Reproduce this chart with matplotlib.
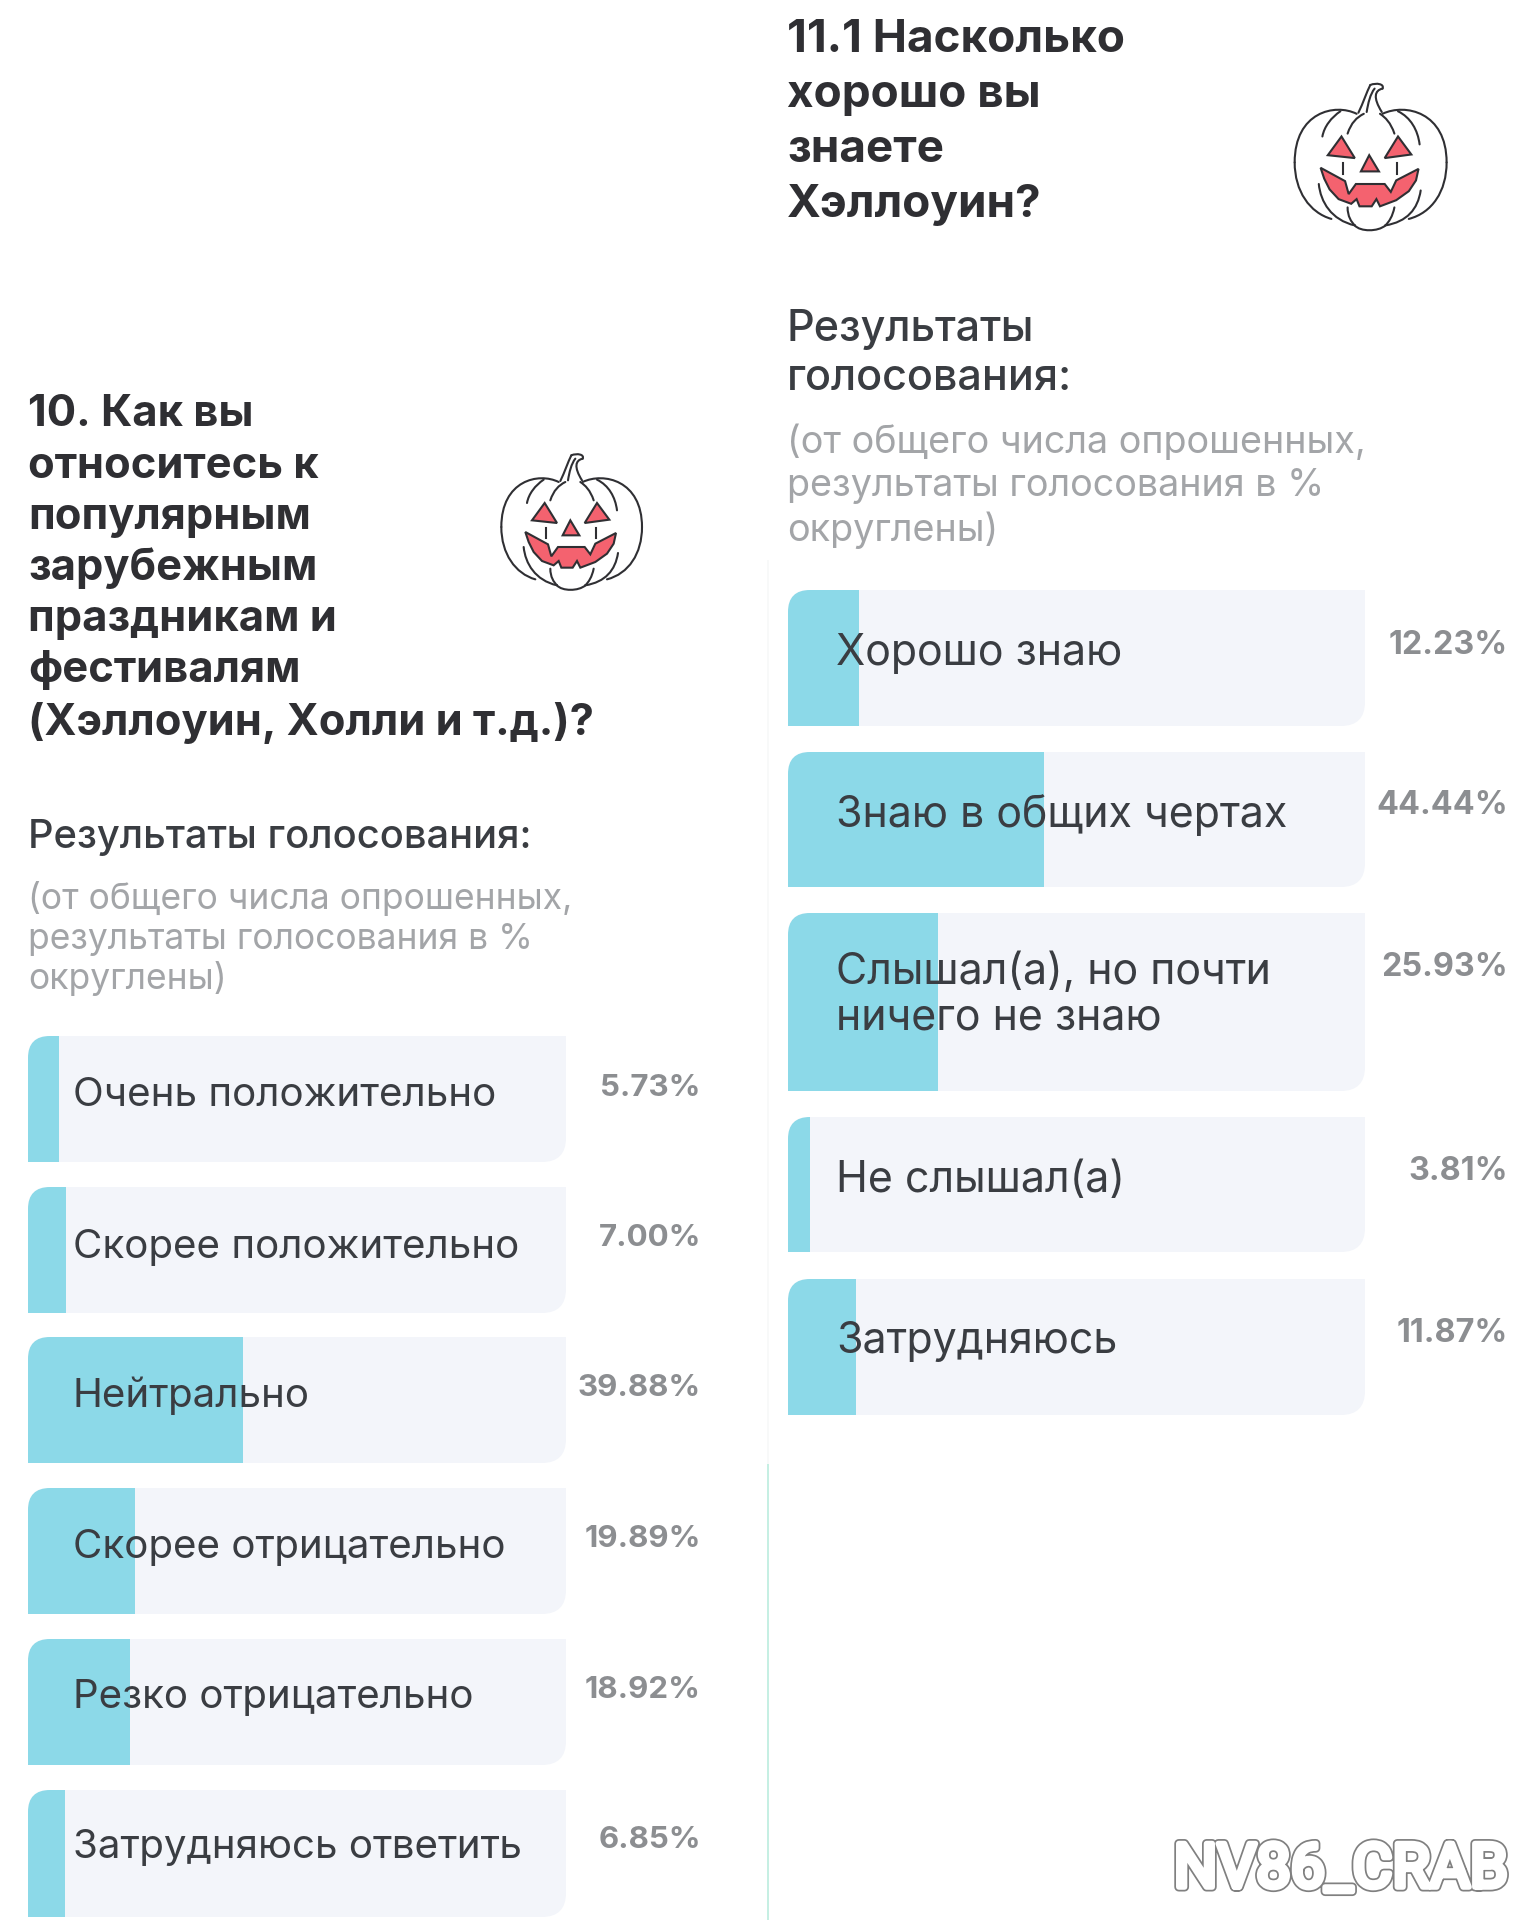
# Halloween poll results, two panels side by side
import matplotlib
matplotlib.use("Agg")
import matplotlib.pyplot as plt
from matplotlib.path import Path
from matplotlib.patches import PathPatch, Rectangle
import matplotlib.patheffects as pe

plt.rcParams['font.family'] = ['Inter', 'DejaVu Sans']

W, H = 1536, 1920

# Data
left_labels = ["Очень положительно", "Скорее положительно", "Нейтрально",
               "Скорее отрицательно", "Резко отрицательно", "Затрудняюсь ответить"]
left_values = [5.73, 7.00, 39.88, 19.89, 18.92, 6.85]
right_labels = ["Хорошо знаю", "Знаю в общих чертах",
                "Слышал(а), но почти\nничего не знаю", "Не слышал(а)", "Затрудняюсь"]
right_values = [12.23, 44.44, 25.93, 3.81, 11.87]

left_title = ["10. Как вы", "относитесь к", "популярным", "зарубежным",
              "праздникам и", "фестивалям", "(Хэллоуин, Холли и т.д.)?"]
right_title = ["11.1 Насколько", "хорошо вы", "знаете", "Хэллоуин?"]
note_left = ["(от общего числа опрошенных,", "результаты голосования в %", "округлены)"]

# Layout in pixels
left_tops = [1036, 1187, 1337, 1488, 1639, 1790]
left_heights = [126, 126, 126, 126, 126, 127]
left_label_y = [1096, 1247, 1396, 1547, 1698, 1848]
left_pct_y = [1088, 1238, 1388, 1539, 1690, 1840]
right_tops = [590, 752, 913, 1117, 1279]
right_heights = [136, 135, 178, 135, 136]
right_label_y = [654, 815, 995, 1181, 1342]
right_pct_y = [646, 806, 968, 1172, 1333]

TRACK = '#f3f5fa'
FILL = '#8cd9e8'
DARK = '#3a3d42'
GREY = '#a3a5a8'
PCT = '#8c8e91'
INK = '#2f2f33'


def corner_path(x0, y0, x1, y1, r1=22, r2=24):
    """Bar outline: top-left and bottom-right corners are rounded"""
    verts = [(x0 + r1, y0), (x1, y0), (x1, y1 - r2), (x1, y1), (x1 - r2, y1),
             (x0, y1), (x0, y0 + r1), (x0, y0), (x0 + r1, y0)]
    codes = [Path.MOVETO, Path.LINETO, Path.LINETO, Path.CURVE3, Path.CURVE3,
             Path.LINETO, Path.LINETO, Path.CURVE3, Path.CURVE3]
    return Path(verts, codes)


def draw_bars(fig, overlay, x0, x1, tops, heights, values):
    ax = fig.add_axes([x0 / W, 0, (x1 - x0) / W, 1])
    ax.set_xlim(0, 100)
    ax.set_ylim(H, 0)
    ax.axis('off')
    tracks = ax.barh(tops, [100] * len(values), height=heights, align='edge', color=TRACK)
    fills = ax.barh(tops, values, height=heights, align='edge', color=FILL)
    for t, f, top, h in zip(tracks, fills, tops, heights):
        clip = corner_path(x0, top, x1, top + h)
        t.set_clip_path(clip, overlay.transData)
        f.set_clip_path(clip, overlay.transData)


def draw_pumpkin(ax, cx, cy, scale):
    """Outline coordinates come from a 600 px sketch centred on (280, 275)"""
    def pt(x, y):
        return (cx + (x - 280) * scale, cy + (y - 275) * scale)

    curves = [
        [(240, 155), (180, 125), (68, 150), (68, 290)],
        [(68, 290), (68, 370), (110, 430), (170, 447)],
        [(135, 350), (140, 400), (170, 450), (235, 465)],
        [(235, 465), (250, 483), (300, 483), (320, 465)],
        [(320, 465), (380, 455), (410, 420), (418, 368)],
        [(312, 155), (375, 125), (490, 150), (490, 290)],
        [(490, 290), (490, 370), (450, 430), (385, 447)],
        [(145, 218), (150, 190), (170, 165), (195, 148)],
        [(215, 415), (215, 440), (225, 455), (235, 465)],
        [(345, 415), (340, 440), (330, 455), (320, 465)],
        [(215, 210), (225, 180), (240, 165), (260, 155)],
        [(345, 210), (335, 180), (320, 165), (305, 155)],
        [(415, 240), (410, 200), (390, 165), (355, 148)],
        [(245, 152), (258, 125), (268, 95), (278, 75)],
        [(278, 75), (295, 68), (318, 72), (312, 85)],
        [(312, 85), (290, 90), (285, 110), (310, 150)],
        [(268, 150), (272, 125), (278, 100), (290, 85)],
    ]
    for c in curves:
        path = Path([pt(*p) for p in c], [Path.MOVETO, Path.CURVE4, Path.CURVE4, Path.CURVE4])
        ax.add_patch(PathPatch(path, fc='none', ec=INK, lw=1.5, capstyle='round'))
    for seg in [[(202, 293), (202, 322)], [(352, 293), (352, 322)]]:
        ax.plot(*zip(*[pt(*p) for p in seg]), color=INK, lw=1.5)
    shapes = [
        [(198, 218), (235, 278), (160, 270)],
        [(355, 218), (392, 268), (318, 278)],
        [(275, 270), (302, 315), (252, 315)],
        [(140, 305), (208, 342), (218, 378), (238, 350), (318, 350), (335, 372), (350, 340),
         (412, 308), (405, 340), (385, 370), (350, 395), (305, 412), (295, 392), (282, 412),
         (248, 412), (240, 392), (225, 405), (190, 392), (165, 365), (150, 335)],
    ]
    for s in shapes:
        ax.fill(*zip(*[pt(*p) for p in s]), fc='#f4626f', ec=INK, lw=1.5)


fig = plt.figure(figsize=(W / 100, H / 100), dpi=100, facecolor='white')
overlay = fig.add_axes([0, 0, 1, 1], zorder=5)
overlay.set_xlim(0, W)
overlay.set_ylim(H, 0)
overlay.axis('off')
overlay.patch.set_alpha(0)

# Divider between the panels
overlay.add_patch(Rectangle((767, 560), 1.5, 904, fc='#f8f9f9', ec='none'))
overlay.add_patch(Rectangle((767, 1464), 2, 456, fc='#c6efe3', ec='none'))

draw_bars(fig, overlay, 28, 566, left_tops, left_heights, left_values)
draw_bars(fig, overlay, 788, 1365, right_tops, right_heights, right_values)

# Titles
for line, y in zip(left_title, [415, 466, 517, 568, 620, 671, 723]):
    overlay.text(28, y, line, fontsize=31.3, fontweight='bold', color=INK, va='center')
for line, y in zip(right_title, [40, 95, 150, 205]):
    overlay.text(787, y, line, fontsize=33, fontweight='bold', color=INK, va='center')

# Sub headings
overlay.text(28, 838, "Результаты голосования:", fontsize=28.7, fontweight='medium', color=DARK, va='center')
overlay.text(787, 329, "Результаты", fontsize=31, fontweight='medium', color=DARK, va='center')
overlay.text(787, 378, "голосования:", fontsize=31, fontweight='medium', color=DARK, va='center')
for line, y in zip(note_left, [899, 939, 979]):
    overlay.text(28, y, line, fontsize=25.5, color=GREY, va='center')
for line, y in zip(note_left, [443, 486, 530]):
    overlay.text(787, y, line, fontsize=27.2, color=GREY, va='center')

# Bar labels and values
for label, v, y, py in zip(left_labels, left_values, left_label_y, left_pct_y):
    overlay.text(73, y, label, fontsize=29, color=DARK, va='center')
    overlay.text(701, py, f"{v:.2f}%", fontsize=22.5, fontweight='bold', color=PCT, va='center', ha='right')
for label, v, y, py in zip(right_labels, right_values, right_label_y, right_pct_y):
    overlay.text(836, y, label, fontsize=30.9, color=DARK, va='center', linespacing=1.15)
    overlay.text(1508, py, f"{v:.2f}%", fontsize=23.3, fontweight='bold', color=PCT, va='center', ha='right')

draw_pumpkin(overlay, 572, 522, 1 / 3)
draw_pumpkin(overlay, 1371, 157, 0.36)

# Watermark, outlined letters
overlay.text(1508, 1870, "NV86_CRAB", fontsize=44, color='white',
             ha='right', va='center', family=['Roboto', 'DejaVu Sans'],
             path_effects=[pe.Stroke(linewidth=6.5, foreground='#808080', joinstyle='round'),
                           pe.Stroke(linewidth=4, foreground='white', joinstyle='round')])

fig.savefig('out.png', dpi=100)
